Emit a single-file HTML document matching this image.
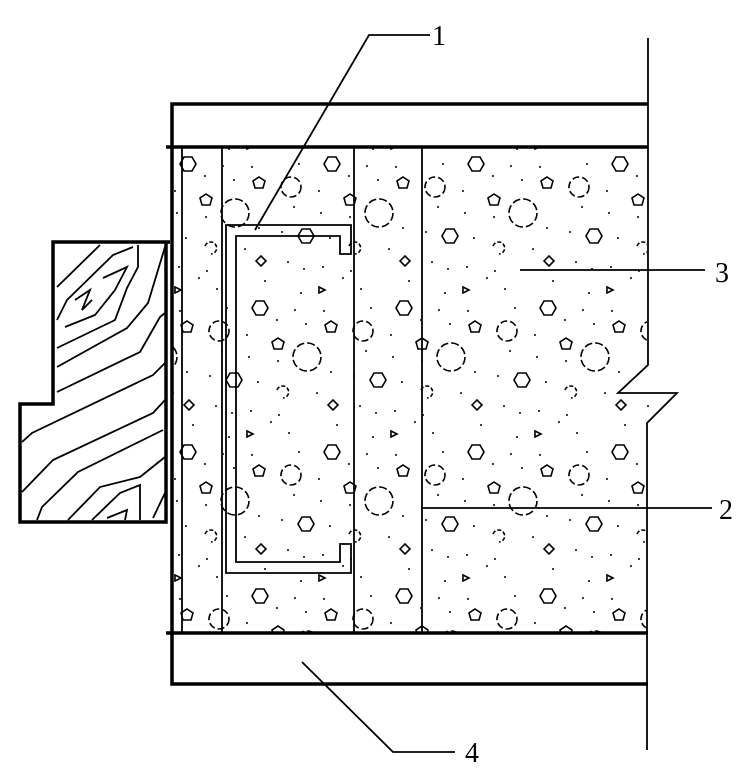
<!DOCTYPE html>
<html><head><meta charset="utf-8"><style>html,body{margin:0;padding:0;background:#fff}svg{display:block}</style></head>
<body>
<svg width="752" height="771" viewBox="0 0 752 771" xmlns="http://www.w3.org/2000/svg" fill="none" stroke="#000">
<defs>
<g id="e" stroke-width="1.6">
  <polygon points="46,14 50,7 58,7 62,14 58,21 50,21"/>
  <circle cx="13" cy="37" r="10" stroke-dasharray="7,3"/>
  <polygon points="125,27 131,31 129,38 121,38 119,31"/>
  <circle cx="101" cy="63" r="14" stroke-dasharray="8,3"/>
  <polygon points="72,44 78,48 76,55 68,55 66,48"/>
  <polygon points="20,86 24,79 32,79 36,86 32,93 24,93"/>
  <path d="M71 96 a6 6 0 1 1 6 8" stroke-dasharray="4,2"/>
  <polygon points="127,106 132,111 127,116 122,111"/>
  <polygon points="41,137 47,140 41,143"/>
  <g fill="#000" stroke="none">
    <circle cx="21" cy="14" r="1"/><circle cx="89" cy="16" r="1"/><circle cx="118" cy="17" r="1"/>
    <circle cx="71" cy="26" r="1"/><circle cx="41" cy="41" r="1"/><circle cx="16" cy="57" r="1"/>
    <circle cx="43" cy="63" r="1"/><circle cx="72" cy="67" r="1"/><circle cx="125" cy="78" r="1"/>
    <circle cx="4" cy="82" r="1"/><circle cx="52" cy="88" r="1"/><circle cx="111" cy="99" r="1"/>
    <circle cx="10" cy="112" r="1"/><circle cx="26" cy="119" r="1"/><circle cx="45" cy="117" r="1"/>
    <circle cx="73" cy="121" r="1"/><circle cx="65" cy="128" r="1"/><circle cx="131" cy="131" r="1"/>
    <circle cx="83" cy="139" r="1"/><circle cx="23" cy="143" r="1"/><circle cx="100" cy="30" r="1"/>
  </g>
</g>
<pattern id="p" patternUnits="userSpaceOnUse" x="422" y="150" width="144" height="288">
  <use href="#e"/><use href="#e" x="-144"/>
  <use href="#e" x="72" y="144"/><use href="#e" x="-72" y="144"/>
  <use href="#e" y="288"/><use href="#e" x="-72" y="-144"/><use href="#e" x="72" y="-144"/>
</pattern>
<clipPath id="c"><polygon points="172,147 647,147 647,365 618,393 677,393 647,423 647,633 172,633"/></clipPath>
</defs>

<rect x="172" y="147" width="510" height="486" fill="url(#p)" stroke="none" clip-path="url(#c)"/>

<g stroke-width="3.5">
  <path d="M648 104 H172 V684 H648"/>
  <path d="M166 147 H648"/>
  <path d="M166 633 H648"/>
</g>
<g stroke-width="1.8">
  <path d="M648 38 V365 L618 393 H677 L647 423 V750"/>
  <path d="M182 147 V633 M222 147 V633 M354 147 V633 M422 147 V633"/>
</g>

<polygon stroke-width="1.8" points="351,254 351,225 226,225 226,573 351,573 351,544 340,544 340,562 236,562 236,236 340,236 340,254"/>

<path d="M170 242 H53 V404 H20 V522 H166 V242" stroke-width="3.5" fill="#fff"/>
<g stroke-width="1.8">
  <polyline points="57,287 100,245"/>
  <polyline points="57,320 67,300 113,255 133,247"/>
  <polyline points="103,278 127,267 115,290 95,315 65,327"/>
  <polyline points="75,300 90,290 82,310 92,300"/>
  <polyline points="57,348 115,320 127,288 138,267 138,245"/>
  <polyline points="57,367 127,328 148,303 165,247"/>
  <polyline points="57,392 140,352 160,317 165,313"/>
  <polyline points="22,442 32,433 153,375 165,363"/>
  <polyline points="22,492 53,460 153,413 165,400"/>
  <polyline points="37,520 42,507 78,472 163,430"/>
  <polyline points="68,520 100,487 140,477 165,457"/>
  <polyline points="92,520 120,493 140,485 140,520"/>
  <polyline points="107,518 127,510 125,520"/>
  <polyline points="153,518 165,493"/>
</g>

<g stroke-width="1.8">
  <path d="M255 230 L369 35 H430"/>
  <path d="M520 270 H705"/>
  <path d="M422 508 H712"/>
  <path d="M302 662 L393 752 H455"/>
</g>
<g fill="#000" stroke="none" font-family="'Liberation Serif', serif" font-size="28">
  <text x="432" y="45">1</text>
  <text x="715" y="282">3</text>
  <text x="719" y="519">2</text>
  <text x="465" y="762">4</text>
</g>
</svg>
</body></html>
